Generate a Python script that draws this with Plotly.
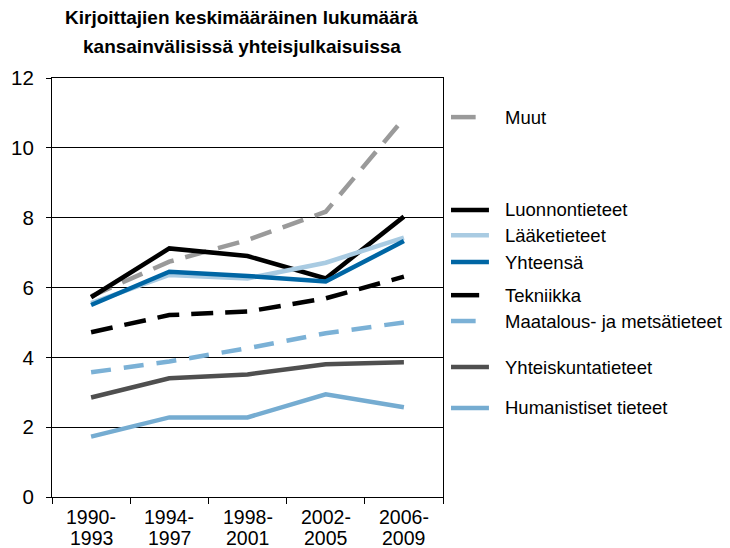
import plotly.graph_objects as go

periods = ["1990-1993", "1994-1997", "1998-2001", "2002-2005", "2006-2009"]
period_start = ["1990-", "1994-", "1998-", "2002-", "2006-"]
period_end = ["1993", "1997", "2001", "2005", "2009"]

muut = [5.75, 6.74, 7.36, 8.17, 10.84]
luonnontieteet = [5.72, 7.12, 6.90, 6.26, 8.03]
laaketieteet = [5.55, 6.36, 6.26, 6.71, 7.43]
yhteensa = [5.50, 6.45, 6.33, 6.17, 7.33]
tekniikka = [4.72, 5.21, 5.31, 5.69, 6.31]
maatalous = [3.57, 3.88, 4.26, 4.69, 5.00]
yhteiskunta = [2.85, 3.40, 3.51, 3.80, 3.86]
humanistiset = [1.73, 2.28, 2.28, 2.94, 2.57]

series = [
    ("Muut", muut, "#9a9a9a", "22px,12px"),
    ("Luonnontieteet", luonnontieteet, "#000000", "solid"),
    ("Lääketieteet", laaketieteet, "#a9cbe2", "solid"),
    ("Yhteensä", yhteensa, "#0066a4", "solid"),
    ("Tekniikka", tekniikka, "#000000", "22px,12px"),
    ("Maatalous- ja metsätieteet", maatalous, "#7bb1d6", "20px,13px"),
    ("Yhteiskuntatieteet", yhteiskunta, "#4f4f4f", "solid"),
    ("Humanistiset tieteet", humanistiset, "#75acd1", "solid"),
]
# legend label vertical positions (in axis units)
legend_y = [10.88, 8.22, 7.50, 6.73, 5.78, 5.04, 3.72, 2.55]
legend_len = [0.063, 0.097, 0.097, 0.097, 0.072, 0.063, 0.097, 0.097]

fig = go.Figure()
for name, vals, color, dash in series:
    fig.add_trace(go.Scatter(x=periods, y=vals, mode="lines", name=name,
                             line=dict(color=color, width=4.5, dash=dash),
                             showlegend=False))

shapes = []
annotations = []
for (name, vals, color, dash), ly, ll in zip(series, legend_y, legend_len):
    shapes.append(dict(type="line", xref="paper", yref="y", x0=1.0205, x1=1.0205 + ll,
                       y0=ly, y1=ly, line=dict(color=color, width=4.5)))
    annotations.append(dict(xref="paper", yref="y", x=1.153, y=ly, text=name,
                            showarrow=False, xanchor="left", yanchor="middle",
                            font=dict(size=18.5, color="#000000")))

for p, s, e in zip(periods, period_start, period_end):
    annotations.append(dict(xref="x", yref="paper", x=p, y=0, yshift=-20, text=s,
                            showarrow=False, xanchor="center", yanchor="middle",
                            font=dict(size=19.5, color="#000000")))
    annotations.append(dict(xref="x", yref="paper", x=p, y=0, yshift=-41, text=e,
                            showarrow=False, xanchor="center", yanchor="middle",
                            font=dict(size=19.5, color="#000000")))

annotations.append(dict(xref="paper", yref="paper", x=0.485, y=1.0, yshift=61,
                        text="<b>Kirjoittajien keskimääräinen lukumäärä</b>",
                        showarrow=False, xanchor="center", yanchor="middle",
                        font=dict(size=19, color="#000000")))
annotations.append(dict(xref="paper", yref="paper", x=0.485, y=1.0, yshift=32,
                        text="<b>kansainvälisissä yhteisjulkaisuissa</b>",
                        showarrow=False, xanchor="center", yanchor="middle",
                        font=dict(size=19, color="#000000")))

fig.update_layout(
    width=730, height=548,
    margin=dict(l=52, r=287, t=78, b=51),
    paper_bgcolor="white", plot_bgcolor="white",
    font=dict(family="Liberation Sans, Arial, sans-serif", color="#000000"),
    shapes=shapes, annotations=annotations,
    xaxis=dict(type="category", showgrid=False, showline=True, linecolor="#000000",
               linewidth=1, mirror=True, ticks="outside", tickson="boundaries",
               ticklen=6, tickcolor="#000000", showticklabels=False,
               range=[-0.5, 4.5]),
    yaxis=dict(range=[0, 12], dtick=2, showgrid=True, gridcolor="#000000", gridwidth=1,
               showline=True, linecolor="#000000", linewidth=1, mirror=True,
               ticks="outside", ticklen=5, tickcolor="#000000", zeroline=False,
               ticklabelstandoff=8, tickfont=dict(size=20.5)),
)

fig.write_html("out.html", config={"displayModeBar": False},
               post_script="document.body.style.margin='0';")
